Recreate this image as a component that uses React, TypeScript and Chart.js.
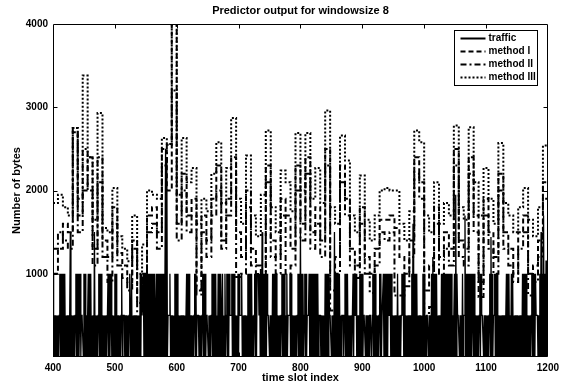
import { useEffect, useRef } from 'react';
import { Chart, registerables } from 'chart.js';

Chart.register(...registerables);

const titleText = 'Predictor output for windowsize 8';
const xLabel = 'time slot index';
const yLabel = 'Number of bytes';
const slotStart = 400;
const slotEnd = 1200;
const windowSize = 8;
const xTicks = [400, 500, 600, 700, 800, 900, 1000, 1100, 1200];
const yTicks = [0, 1000, 2000, 3000, 4000];
const seriesNames = ['traffic', 'method I', 'method II', 'method III'];

// traffic, one value per time slot (400 ... 1200)
const traffic = [
  1000,0,500,0,500,0,500,0,500,0,500,1000,0,1000,0,1000,0,1000,0,1000,
  0,500,0,500,0,500,0,500,1500,0,500,0,500,0,500,0,500,1000,0,1000,
  0,1000,0,500,1000,0,500,500,500,0,1000,0,1000,0,500,0,500,1000,0,1000,
  0,1000,0,500,0,500,0,1500,0,500,0,500,0,500,1000,0,1000,0,1000,0,
  500,0,500,0,500,0,500,0,500,1000,0,1000,0,500,1000,0,500,0,500,0,
  1000,0,1000,0,500,0,500,0,500,0,500,1000,0,500,500,500,0,500,0,500,
  0,500,0,500,1000,0,500,1000,0,500,0,500,0,500,0,500,0,500,0,500,
  0,1000,0,1000,500,500,1000,0,1000,0,1000,0,1000,0,1000,0,1000,0,1000,0,
  1000,0,1000,0,1000,0,500,1000,0,1000,0,1000,0,1000,0,1000,0,1000,0,1000,
  0,1000,2500,0,2400,0,500,500,500,1000,0,500,0,500,0,500,0,1000,0,1000,
  0,1000,0,500,0,500,0,500,0,500,0,500,0,500,0,500,1000,0,1000,0,
  1000,0,500,0,500,0,500,0,500,1000,0,1000,0,500,500,500,0,500,0,500,
  0,500,1000,0,1000,0,1000,0,500,500,500,0,500,0,500,0,500,1000,0,1000,
  0,1000,0,1000,0,500,0,1000,0,1000,0,1000,0,500,1000,0,500,0,1000,0,
  500,1000,0,1000,0,1000,500,500,500,1000,0,1000,0,1000,0,500,0,500,0,1000,
  0,1000,500,500,500,1000,0,500,0,500,0,500,0,500,0,1000,0,1000,0,1000,
  0,1000,0,500,0,500,1000,0,1000,0,1000,1000,1000,500,1000,0,1000,0,1500,0,
  1000,0,1000,0,1000,0,1000,500,500,500,0,500,0,500,0,1000,0,1000,0,1000,
  0,1000,0,500,0,500,0,500,0,500,1000,0,1000,0,1000,0,500,0,1000,0,
  500,500,500,1000,0,1000,0,500,0,500,0,500,0,500,0,500,1000,0,1000,0,
  1500,0,1000,0,1000,0,500,1000,0,1000,0,500,500,500,1000,0,1000,0,1000,0,
  1000,0,1000,0,1000,0,1000,0,1000,0,500,500,500,0,500,0,500,0,500,0,
  1000,0,1000,0,1000,0,1000,500,500,500,0,500,0,500,0,1500,0,1000,0,1000,
  0,1000,0,1000,0,500,0,500,500,500,0,500,1000,0,1000,0,1000,0,500,0,
  500,0,500,0,500,1000,0,1000,500,500,1000,0,500,0,500,0,1000,0,1000,0,
  1000,0,500,500,500,0,500,0,500,0,500,0,500,500,500,0,500,1000,0,1000,
  0,1000,0,500,0,500,0,500,1000,0,1000,0,500,500,1000,0,1000,0,1000,0,
  1000,0,1000,500,500,1000,0,1000,0,500,0,500,0,500,0,500,0,1000,0,500,
  0,500,0,500,1000,500,1000,0,1000,0,500,0,500,0,500,0,500,0,500,0,
  1000,0,1600,0,1000,0,1000,0,1000,0,500,0,500,0,500,0,500,0,1000,0,
  1000,0,500,0,500,500,500,0,500,0,500,0,1000,0,1200,0,1000,0,1000,0,
  1000,0,500,0,500,0,500,0,1000,0,1000,0,1000,0,1000,0,1000,0,1000,0,
  1000,0,1000,0,1000,0,500,0,500,1000,0,1950,0,1000,500,500,500,0,500,0,
  500,0,1000,0,500,500,1700,0,1000,0,1000,0,1000,0,1000,0,1000,0,500,1000,
  0,1000,0,500,0,500,0,500,0,500,1000,0,1000,500,500,500,0,500,0,500,
  0,500,0,500,0,500,1000,0,1440,0,1000,0,500,500,1000,0,1000,0,1000,0,
  500,0,500,0,500,0,500,0,500,0,500,0,500,1000,0,1000,0,1000,0,500,
  0,1000,0,1000,0,500,0,500,0,500,0,500,0,500,0,500,0,500,0,1000,
  0,1000,0,1000,0,1000,0,500,0,500,0,500,0,500,1000,0,1000,0,1000,0,
  1000,500,500,500,0,500,0,1000,0,1500,0,1000,0,1700,0,1000,0,1160,0,1000,
  500,
];

// predictions, one value per window of 8 slots
const methodI = [
  1000, 1300, 1600, 1500, 2700, 1700, 2000, 2400, 1300, 2100,
  1400, 1200, 1800, 1250, 1100, 900, 1400, 650, 1000, 1700,
  1800, 1500, 2500, 2000, 4100, 1600, 2200, 1700, 1900, 800,
  1700, 1400, 1900, 2300, 1400, 1900, 2400, 1500, 1200, 2000,
  1300, 1100, 900, 2300, 1400, 1200, 1900, 1700, 1300, 2300,
  1600, 2400, 1500, 1800, 1400, 2500, 800, 1200, 2300, 1900,
  1300, 1100, 1800, 1200, 1000, 1300, 1650, 1650, 1700, 1550,
  1200, 1000, 1400, 2400, 2100, 800, 1100, 1800, 1200, 1500,
  1300, 2500, 1400, 1300, 2400, 1700, 900, 1900, 1500, 1200,
  2200, 1500, 1300, 1000, 1500, 1700, 1000, 1100, 1400, 2100,
];

const methodII = [
  1300, 1500, 1400, 1300, 2750, 1500, 2500, 2000, 1100, 2400,
  1200, 900, 1600, 1100, 950, 800, 1300, 550, 900, 1500,
  1600, 1300, 2300, 2550, 3200, 1400, 2000, 1500, 1700, 750,
  1500, 1200, 1700, 2000, 1300, 1700, 2200, 960, 1000, 1800,
  1100, 900, 700, 2100, 1200, 1000, 1700, 1000, 1100, 2000,
  1400, 2200, 1300, 1600, 1200, 2300, 560, 1000, 2100, 1700,
  1100, 950, 1600, 1000, 770, 1100, 1500, 1400, 1500, 740,
  740, 850, 1200, 2200, 1900, 530, 600, 1600, 1000, 1300,
  1100, 2300, 1200, 1100, 2200, 1500, 720, 1700, 1300, 1000,
  2000, 1300, 1100, 900, 1300, 1500, 740, 900, 1200, 1900,
];

const methodIII = [
  1850, 1950, 1800, 1700, 2750, 1900, 3380, 2400, 1650, 2930,
  1550, 1500, 2030, 1450, 1300, 1150, 1700, 1000, 1350, 2000,
  1950, 1900, 2630, 2560, 4600, 1950, 2630, 2100, 2270, 1600,
  1900, 1750, 2200, 2580, 1850, 2270, 2870, 1900, 1600, 2420,
  1700, 1450, 1950, 2720, 1800, 1500, 2240, 2100, 1750, 2690,
  2000, 2690, 1900, 2270, 1850, 2960, 1800, 1600, 2660, 2360,
  1700, 1500, 2180, 1650, 1400, 1700, 2000, 2030, 2000, 2000,
  1600, 1400, 1750, 2720, 2580, 1700, 1500, 2100, 1600, 1850,
  1700, 2780, 1800, 1650, 2760, 2100, 1700, 2270, 1900, 1600,
  2570, 1850, 1700, 1500, 1800, 2030, 1650, 1450, 1800, 2540,
];

const FONT = "'Liberation Sans', Arial, Helvetica, sans-serif";

function slotPoints(values: number[]) {
  return values.map((v, i) => ({ x: slotStart + i, y: v }));
}

function windowPoints(values: number[]) {
  const pts = values.map((v, i) => ({ x: slotStart + i * windowSize, y: v }));
  pts.push({ x: slotEnd, y: values[values.length - 1] });
  return pts;
}

const framePlugin = {
  id: 'matlabFrame',
  afterDatasetsDraw(chart: any) {
    const { ctx, chartArea: a, scales } = chart;
    const L = Math.round(a.left) + 0.5;
    const R = Math.round(a.right) - 0.5;
    const T = Math.round(a.top) + 0.5;
    const B = Math.round(a.bottom) - 0.5;
    ctx.save();
    ctx.strokeStyle = '#000';
    ctx.lineWidth = 1;
    ctx.beginPath();
    ctx.rect(L, T, R - L, B - T);
    const tl = 4;
    xTicks.slice(1, -1).forEach((v) => {
      const px = Math.round(scales.x.getPixelForValue(v)) + 0.5;
      ctx.moveTo(px, B); ctx.lineTo(px, B - tl);
      ctx.moveTo(px, T); ctx.lineTo(px, T + tl);
    });
    yTicks.slice(1, -1).forEach((v) => {
      const py = Math.round(scales.y.getPixelForValue(v)) + 0.5;
      ctx.moveTo(L, py); ctx.lineTo(L + tl, py);
      ctx.moveTo(R, py); ctx.lineTo(R - tl, py);
    });
    ctx.stroke();

    // legend box
    const bw = 83, bh = 55;
    const bx = Math.round(a.right) - 11 - bw + 0.5;
    const by = Math.round(a.top) + 6 + 0.5;
    ctx.fillStyle = '#fff';
    ctx.fillRect(bx, by, bw, bh);
    ctx.strokeRect(bx, by, bw, bh);
    ctx.font = `bold 10px ${FONT}`;
    ctx.textBaseline = 'middle';
    ctx.fillStyle = '#000';
    chart.data.datasets.forEach((ds: any, i: number) => {
      const y = by + 8 + i * 13;
      ctx.save();
      ctx.lineWidth = 2;
      ctx.setLineDash(ds.borderDash || []);
      ctx.beginPath();
      ctx.moveTo(bx + 6, y);
      ctx.lineTo(bx + 31, y);
      ctx.stroke();
      ctx.restore();
      ctx.fillText(ds.label, bx + 34, y);
    });
    ctx.restore();
  },
};

export default function App() {
  const ref = useRef<HTMLCanvasElement | null>(null);
  useEffect(() => {
    if (!ref.current) return;
    const tickFont = { family: FONT, size: 10, weight: 'bold' as const };
    const labelFont = { family: FONT, size: 11, weight: 'bold' as const };
    const chart = new Chart(ref.current, {
      type: 'line',
      data: {
        datasets: [
          { label: seriesNames[0], data: slotPoints(traffic), borderColor: '#000', borderWidth: 1.3, pointRadius: 0, borderDash: [] },
          { label: seriesNames[1], data: windowPoints(methodI), borderColor: '#000', borderWidth: 2, pointRadius: 0, stepped: 'before', borderDash: [5, 3] },
          { label: seriesNames[2], data: windowPoints(methodII), borderColor: '#000', borderWidth: 2, pointRadius: 0, stepped: 'before', borderDash: [6, 3, 2, 3] },
          { label: seriesNames[3], data: windowPoints(methodIII), borderColor: '#000', borderWidth: 2, pointRadius: 0, stepped: 'before', borderDash: [2, 2] },
        ] as any,
      },
      options: {
        responsive: false,
        animation: false,
        devicePixelRatio: 1,
        layout: { padding: { left: 0, right: 16, top: 0, bottom: 0 } },
        plugins: {
          legend: { display: false },
          tooltip: { enabled: false },
          title: {
            display: true,
            text: titleText,
            color: '#000',
            fullSize: false,
            font: labelFont,
            padding: { top: 4, bottom: 6.8 },
          },
        },
        scales: {
          x: {
            type: 'linear',
            min: slotStart,
            max: slotEnd,
            afterBuildTicks: (s: any) => { s.ticks = xTicks.map((v) => ({ value: v })); },
            ticks: { color: '#000', font: tickFont, padding: 5, maxRotation: 0, autoSkip: false, callback: (v: any) => String(v) },
            grid: { display: false, drawTicks: false, tickLength: 0 },
            border: { display: false },
            title: { display: true, text: xLabel, color: '#000', font: labelFont, padding: { top: 0, bottom: 3 } },
            afterFit: (s: any) => { s.height = 31; },
          },
          y: {
            type: 'linear',
            min: 0,
            max: 4000,
            afterBuildTicks: (s: any) => { s.ticks = yTicks.map((v) => ({ value: v })); },
            ticks: { color: '#000', font: tickFont, padding: 5, callback: (v: any) => (v === 0 ? '' : String(v)) },
            grid: { display: false, drawTicks: false, tickLength: 0 },
            border: { display: false },
            title: { display: true, text: yLabel, color: '#000', font: labelFont, padding: { top: 10, bottom: 0 } },
            afterFit: (s: any) => { s.width = 53; },
          },
        },
      } as any,
      plugins: [framePlugin],
    });
    return () => chart.destroy();
  }, []);
  return (
    <div style={{ position: 'absolute', left: 0, top: 0, width: 564, height: 388, background: '#fff' }}>
      <canvas ref={ref} width={564} height={388} style={{ display: 'block' }} />
    </div>
  );
}
